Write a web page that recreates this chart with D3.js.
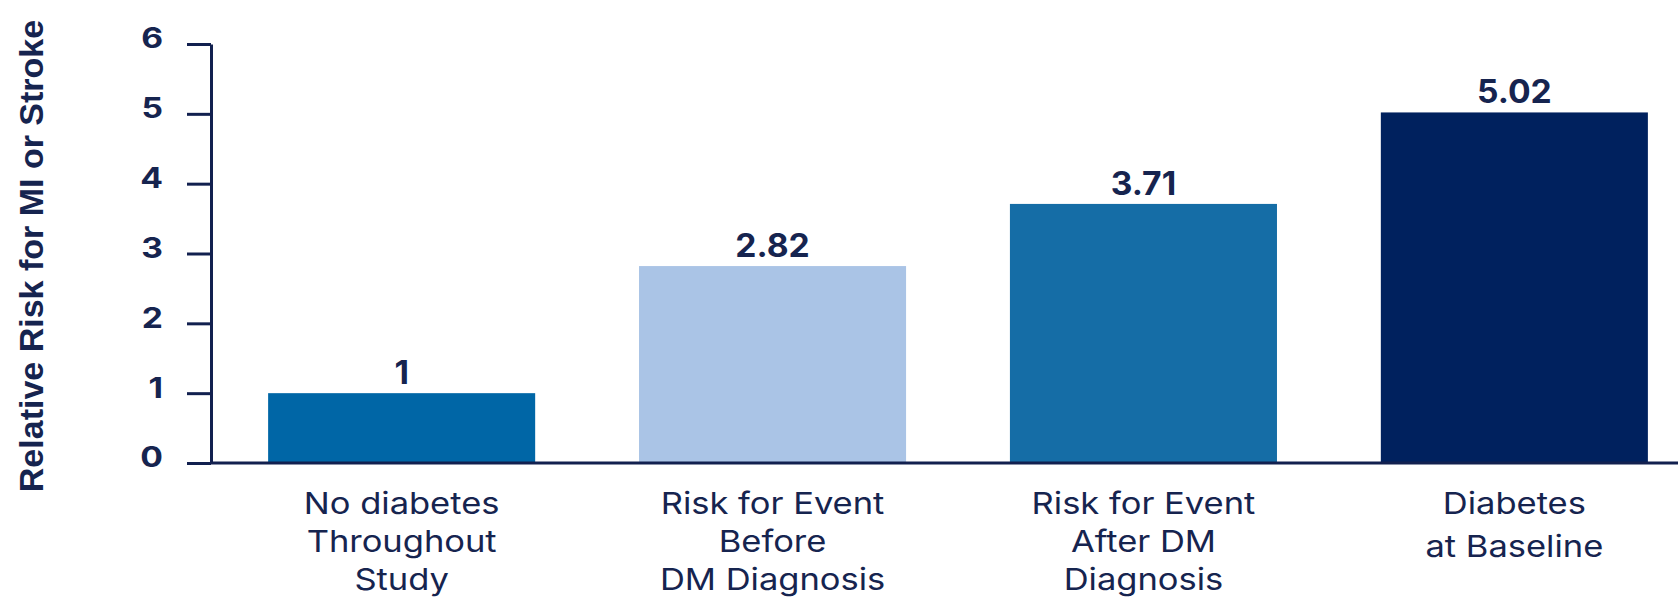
<!DOCTYPE html>
<html>
<head>
<meta charset="utf-8">
<script src="https://cdnjs.cloudflare.com/ajax/libs/d3/7.8.5/d3.min.js"></script>
<style>
  html, body { margin: 0; padding: 0; background: #fff; }
  svg { display: block; }
  text { font-family: Inter, "Open Sans", sans-serif; fill: #16244f; }
</style>
</head>
<body>
<svg id="chart" width="1678" height="610"></svg>
<script>
// data
var categories = ["No diabetes Throughout Study", "Risk for Event Before DM Diagnosis",
                  "Risk for Event After DM Diagnosis", "Diabetes at Baseline"];
var labelLines = [["No diabetes", "Throughout", "Study"],
                  ["Risk for Event", "Before", "DM Diagnosis"],
                  ["Risk for Event", "After DM", "Diagnosis"],
                  ["Diabetes", "at Baseline"]];
var values = [1, 2.82, 3.71, 5.02];
var valueLabels = ["1", "2.82", "3.71", "5.02"];
var barColors = ["#0066a6", "#aac4e6", "#156da6", "#00215e"];
var yTicks = [0, 1, 2, 3, 4, 5, 6];
var yTitle = "Relative Risk for MI or Stroke";

var navy = "#12204f";
var svg = d3.select("#chart");

var y = d3.scaleLinear().domain([0, 6]).range([463, 44]);
var x = d3.scaleBand().domain(categories).range([211, 1705])
    .paddingInner(0.28).paddingOuter(0.154);

// bars
svg.selectAll("rect.bar").data(values).enter().append("rect")
    .attr("class", "bar")
    .attr("x", (d, i) => x(categories[i]))
    .attr("width", x.bandwidth())
    .attr("y", d => y(d))
    .attr("height", d => y(0) - y(d))
    .attr("fill", (d, i) => barColors[i]);

// y axis
var yAxis = svg.append("g").attr("transform", "translate(211,0)")
    .call(d3.axisLeft(y).tickValues(yTicks).tickSize(24).tickSizeOuter(0).tickPadding(24).tickFormat(d3.format("d")));
yAxis.select(".domain").attr("stroke", navy).attr("stroke-width", 3);
yAxis.selectAll(".tick line").attr("stroke", navy).attr("stroke-width", 3);
yAxis.selectAll(".tick text")
    .attr("fill", navy)
    .style("font-family", "Inter, sans-serif")
    .style("font-size", "28px").style("font-weight", "700")
    .attr("dy", "0.14em")
    .attr("transform", function () {
        var t = d3.select(this);
        return "translate(" + t.attr("x") + ",0) scale(1.2,1) translate(" + (-t.attr("x")) + ",0)";
    });

// x baseline
svg.append("line")
    .attr("x1", 210).attr("x2", 1678)
    .attr("y1", y(0)).attr("y2", y(0))
    .attr("stroke", navy).attr("stroke-width", 3);

// value labels
svg.selectAll("text.val").data(values).enter().append("text")
    .attr("class", "val")
    .attr("text-anchor", "middle")
    .attr("transform", (d, i) => "translate(" + (x(categories[i]) + x.bandwidth() / 2) + "," + (y(d) - 9) + ") scale(1.05,1)")
    .style("font-size", "32px").style("font-weight", "700")
    .attr("fill", navy)
    .text((d, i) => valueLabels[i]);

// category labels
labelLines.forEach(function (lines, i) {
    var cx = x(categories[i]) + x.bandwidth() / 2;
    var gap = lines.length === 2 ? 43 : 38;
    lines.forEach(function (line, j) {
        svg.append("text")
            .attr("text-anchor", "middle")
            .attr("transform", "translate(" + cx + "," + (514 + j * gap) + ") scale(1.15,1)")
            .style("font-size", "30px").style("font-weight", "400")
            .attr("fill", "#1a2953")
            .text(line);
    });
});

// y title
svg.append("text")
    .attr("text-anchor", "middle")
    .attr("transform", "translate(43,256) rotate(-90)")
    .style("font-family", "'Liberation Sans', Arial, sans-serif")
    .style("font-size", "34px").style("font-weight", "700")
    .attr("fill", "#1a2a58")
    .text(yTitle);
</script>
</body>
</html>
